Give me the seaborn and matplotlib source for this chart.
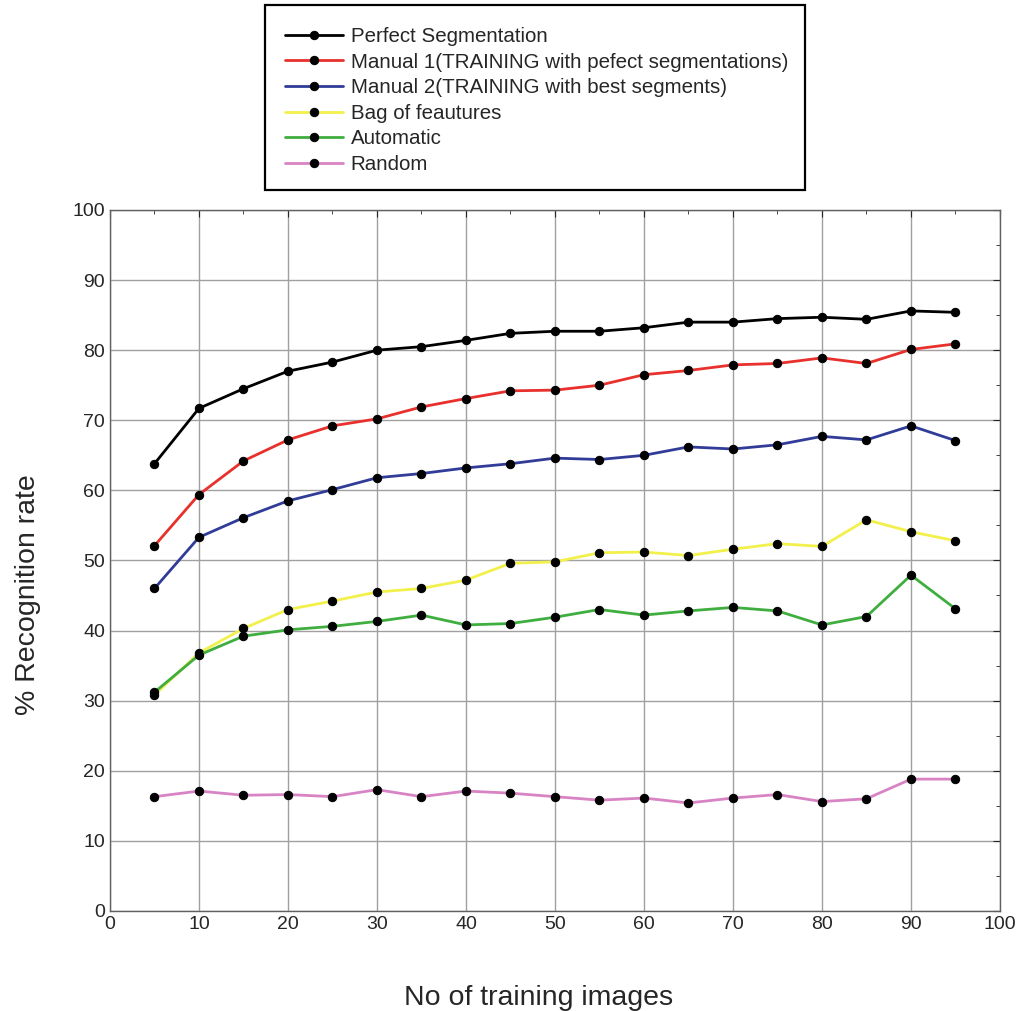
import numpy as np
import pandas as pd
import matplotlib
matplotlib.use("Agg")
import matplotlib.pyplot as plt
from matplotlib.ticker import MultipleLocator
from matplotlib.patches import Rectangle
import seaborn as sns

# training set sizes
n_train = [5, 10, 15, 20, 25, 30, 35, 40, 45, 50, 55, 60, 65, 70, 75, 80, 85, 90, 95]

perfect = [63.8, 71.7, 74.5, 77.0, 78.3, 80.0, 80.5, 81.4, 82.4, 82.7, 82.7, 83.2, 84.0, 84.0, 84.5, 84.7, 84.4, 85.6, 85.4]
manual1 = [52.1, 59.4, 64.2, 67.2, 69.2, 70.2, 71.9, 73.1, 74.2, 74.3, 75.0, 76.5, 77.1, 77.9, 78.1, 78.9, 78.1, 80.1, 80.9]
manual2 = [46.0, 53.3, 56.1, 58.5, 60.1, 61.8, 62.4, 63.2, 63.8, 64.6, 64.4, 65.0, 66.2, 65.9, 66.5, 67.7, 67.2, 69.2, 67.1]
bag = [30.8, 36.8, 40.3, 43.0, 44.2, 45.5, 46.0, 47.2, 49.6, 49.8, 51.1, 51.2, 50.7, 51.6, 52.4, 52.0, 55.8, 54.1, 52.8]
automatic = [31.2, 36.5, 39.2, 40.1, 40.6, 41.3, 42.2, 40.8, 41.0, 41.9, 43.0, 42.2, 42.8, 43.3, 42.8, 40.8, 42.0, 47.9, 43.1]
random_ = [16.3, 17.1, 16.5, 16.6, 16.3, 17.3, 16.3, 17.1, 16.8, 16.3, 15.8, 16.1, 15.4, 16.1, 16.6, 15.6, 16.0, 18.8, 18.8]

labels = ["Perfect Segmentation",
          "Manual 1(TRAINING with pefect segmentations)",
          "Manual 2(TRAINING with best segments)",
          "Bag of feautures",
          "Automatic",
          "Random"]
colors = ["#000000", "#e8302c", "#303c98", "#f2f04a", "#3fae3f", "#d884c4"]
series = [perfect, manual1, manual2, bag, automatic, random_]

sns.set_style("white")
plt.rcParams['font.family'] = ['Liberation Sans', 'DejaVu Sans']

fig = plt.figure(figsize=(10.23, 10.11), dpi=100)
ax = fig.add_axes([0.1075, 0.099, 0.87, 0.6933])

for lab, col, vals in zip(labels, colors, series):
    df = pd.DataFrame({"x": n_train, "y": vals})
    sns.lineplot(data=df, x="x", y="y", ax=ax, color=col, linewidth=2.0,
                 marker="o", markersize=8, markerfacecolor="black",
                 markeredgecolor="black", label=lab)

ax.set_xlim(0, 100)
ax.set_ylim(0, 100)
ax.xaxis.set_major_locator(MultipleLocator(10))
ax.yaxis.set_major_locator(MultipleLocator(10))
ax.xaxis.set_minor_locator(MultipleLocator(5))
ax.yaxis.set_minor_locator(MultipleLocator(5))
ax.grid(True, which="major", color="#a0a0a0", linewidth=1.0)
ax.tick_params(which="both", direction="in", top=True, right=True, labelsize=14)
ax.tick_params(which="major", length=5)
ax.tick_params(which="minor", length=3)
for s in ax.spines.values():
    s.set_color("#606060")
    s.set_linewidth(1.0)

ax.set_xlabel("No of training images", fontsize=20.5)
ax.set_ylabel("% Recognition rate", fontsize=20.5)
ax.xaxis.set_label_coords(0.481, -0.105)
ax.yaxis.set_label_coords(-0.077, 0.451)

handles, labs = ax.get_legend_handles_labels()
ax.get_legend().remove()
for h in handles:
    h.set_markersize(6)

# legend box drawn as its own frame
fig.patches.append(Rectangle((265 / 1023, 1 - 190 / 1011), 540 / 1023, 185 / 1011,
                             transform=fig.transFigure, fill=False,
                             edgecolor="black", linewidth=1.6))
fig.legend(handles, labs, loc="upper left",
           bbox_to_anchor=(285 / 1023, 1 - 27 / 1011),
           fontsize=14.8, frameon=False, handlelength=2.8, labelspacing=0.32,
           borderpad=0.0, handletextpad=0.4, borderaxespad=0.0)

fig.savefig("out.png", dpi=100)
